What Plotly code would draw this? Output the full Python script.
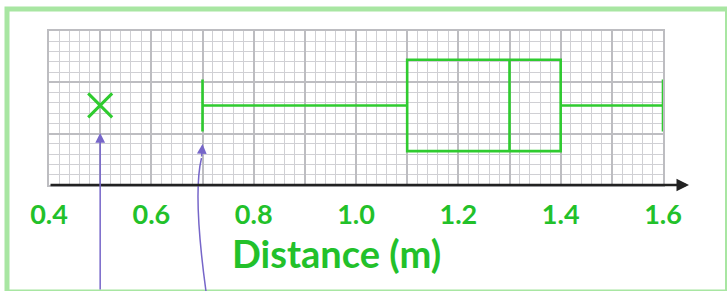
import plotly.graph_objects as go

# ---- data ----
category = ["Distance"]
q1 = [1.1]
median = [1.3]
q3 = [1.4]
lower_whisker = [0.7]
upper_whisker = [1.6]
outliers = [0.5]
grid_vals = [0.4, 0.5, 0.6, 0.7, 0.8, 0.9, 1.0, 1.1, 1.2, 1.3, 1.4, 1.5, 1.6]
tick_text = ["0.4", "", "0.6", "", "0.8", "", "1.0", "", "1.2", "", "1.4", "", "1.6"]
axis_title = "Distance (m)"

GREEN = "#2fcb2f"
TEXT_GREEN = "#22c12a"
PURPLE = "#7666c9"
FRAME = "#a8e6a2"

W, H = 727, 291
ML, MR, MT, MB = 49, 64, 31, 106
XR = [0.4, 1.6]
YR = [0, 3]
ypos = 1.55

fig = go.Figure()
fig.add_trace(go.Box(
    y=[ypos], q1=q1, median=median, q3=q3,
    lowerfence=lower_whisker, upperfence=upper_whisker,
    orientation="h", width=1.78, whiskerwidth=0.57,
    line=dict(color=GREEN, width=2.6), fillcolor="rgba(0,0,0,0)",
    boxpoints=False, name=category[0], hoverinfo="skip",
))
fig.add_trace(go.Scatter(
    x=outliers, y=[ypos] * len(outliers), mode="markers",
    marker=dict(symbol="x-thin", size=24, line=dict(color=GREEN, width=3)),
    hoverinfo="skip",
))

pw = W - ML - MR
ph = H - MT - MB

def px_x(v):  # data -> paper x
    return (v - XR[0]) / (XR[1] - XR[0])

def pix_to_paper(px, py):
    return (px - ML) / pw, (H - MB - py) / ph

annotations = []
# x-axis arrow
tip_x = (689 - ML) / pw
annotations.append(dict(x=tip_x, y=0, xref="paper", yref="paper", ax=-(689 - ML), ay=0,
                        axref="pixel", ayref="pixel", text="", showarrow=True,
                        arrowhead=2, arrowsize=1.0, arrowwidth=2.5, arrowcolor="#222222"))
# axis title
tx, ty = pix_to_paper(336, 253)
annotations.append(dict(x=tx, y=ty, xref="paper", yref="paper", text=axis_title,
                        xanchor="center", yanchor="middle",
                        showarrow=False,
                        font=dict(size=38, color=TEXT_GREEN, family="Lato", weight="bold")))
# purple pointer to outlier
ox = px_x(outliers[0])
_, oy = pix_to_paper(0, 133)
annotations.append(dict(x=ox, y=oy, xref="paper", yref="paper", ax=0, ay=165, text="",
                        showarrow=True, arrowhead=2, arrowsize=1.3, arrowwidth=1.5,
                        arrowcolor=PURPLE))
# purple pointer to lower whisker (curved)
wx = px_x(lower_whisker[0])
_, wy = pix_to_paper(0, 144)
annotations.append(dict(x=wx, y=wy, xref="paper", yref="paper", ax=-1, ay=14, text="",
                        showarrow=True, arrowhead=2, arrowsize=1.3, arrowwidth=1.5,
                        arrowcolor=PURPLE))
wpx = ML + wx * pw
sx, sy = pix_to_paper(wpx + 4, 295)
cx, cy = pix_to_paper(wpx - 10, 195)
ex, ey = pix_to_paper(wpx - 1, 158)
shapes = [
    dict(type="path", xref="paper", yref="paper",
         path=f"M {sx},{sy} Q {cx},{cy} {ex},{ey}",
         line=dict(color=PURPLE, width=1.5)),
]
# frame
fx0, fy0 = pix_to_paper(7, 292)
fx1, fy1 = pix_to_paper(727.5, 9)
shapes.append(dict(type="rect", xref="paper", yref="paper", x0=fx0, y0=fy0, x1=fx1, y1=fy1,
                   line=dict(color=FRAME, width=5), fillcolor="rgba(0,0,0,0)", layer="below"))

fig.update_layout(
    width=W, height=H, margin=dict(l=ML, r=MR, t=MT, b=MB, autoexpand=False),
    paper_bgcolor="white", plot_bgcolor="white", showlegend=False,
    annotations=annotations, shapes=shapes,
    xaxis=dict(range=XR, tickmode="array", tickvals=grid_vals, ticktext=tick_text,
               tickfont=dict(size=27, color=TEXT_GREEN, family="Lato", weight="bold"),
               ticks="", ticklabelstandoff=4, automargin=False,
               showgrid=True, gridcolor="#bdbdc1", gridwidth=2.2,
               minor=dict(dtick=0.02, tick0=0.4, showgrid=True, gridcolor="#d0d0d4", gridwidth=1.4),
               showline=True, mirror=True, linecolor="#bdbdc1", linewidth=2.2,
               zeroline=False, fixedrange=True),
    yaxis=dict(range=YR, dtick=1, showticklabels=False, ticks="", automargin=False,
               showgrid=True, gridcolor="#bdbdc1", gridwidth=2.2,
               minor=dict(dtick=0.2, showgrid=True, gridcolor="#d0d0d4", gridwidth=1.4),
               showline=True, mirror=True, linecolor="#bdbdc1", linewidth=2.2,
               zeroline=False, fixedrange=True),
)

fig.write_html("out.html", config={"displayModeBar": False},
               post_script="document.body.style.margin='0';")
